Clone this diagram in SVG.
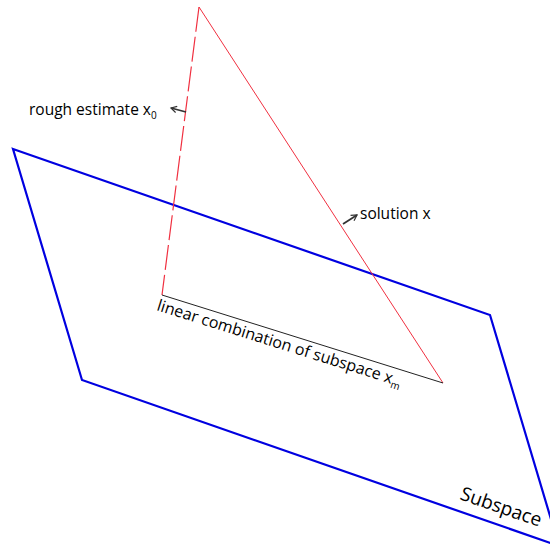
<svg xmlns="http://www.w3.org/2000/svg" width="550" height="548" viewBox="0 0 550 548">
<defs>
<style>
.lbl{font-family:"Open Sans","Liberation Sans",sans-serif;fill:#000;font-size:15.5px;font-weight:500}
.sub{font-size:10px}
.ptr{stroke:#333;stroke-width:1.8;fill:none}
</style>
<marker id="ah" viewBox="0 0 10 10" refX="8" refY="5" markerWidth="8" markerHeight="8" orient="auto" markerUnits="userSpaceOnUse">
<path d="M1,1 L8,5 L1,9" fill="none" stroke="#333" stroke-width="1.5"/>
</marker>
</defs>
<rect width="550" height="548" fill="#fff"/>
<g id="subspace">
<polygon points="13,149 490,315 559,546 82,380" fill="none" stroke="#0000e0" stroke-width="2.2"/>
<text class="lbl" style="font-size:19px" transform="translate(459,499) rotate(19.2)">Subspace</text>
</g>
<g id="connectors">
<line id="rough" x1="199" y1="7" x2="162" y2="295" stroke="#f03040" stroke-width="1.2" stroke-dasharray="25 5"/>
<line id="solution" x1="199" y1="7" x2="443" y2="383" stroke="#f03040" stroke-width="1"/>
<line id="linear" x1="162" y1="295" x2="443" y2="383" stroke="#222" stroke-width="1"/>
<line class="ptr" x1="186" y1="112" x2="171" y2="108" marker-end="url(#ah)"/>
<line class="ptr" x1="343" y1="224" x2="357" y2="215" marker-end="url(#ah)"/>
</g>
<g id="label-rough">
<text class="lbl" x="29" y="115">rough estimate x<tspan class="sub" dy="4">0</tspan></text>
</g>
<g id="label-solution">
<text class="lbl" x="360" y="219">solution x</text>
</g>
<g id="label-linear">
<text class="lbl" style="font-size:16px" transform="translate(156,310) rotate(17.4)">linear combination of subspace x<tspan class="sub" dy="4">m</tspan></text>
</g>
</svg>
